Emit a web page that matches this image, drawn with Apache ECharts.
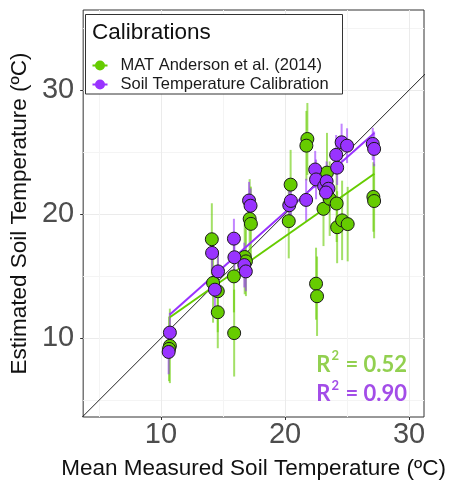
<!DOCTYPE html>
<html>
<head>
<meta charset="utf-8">
<script src="https://cdn.jsdelivr.net/npm/echarts@6/dist/echarts.min.js"></script>
<style>html,body{margin:0;padding:0;background:#fff;}#chart{width:451px;height:485px;}</style>
</head>
<body>
<div id="chart"></div>
<script>
// ---- data ----
var nameGreen = 'MAT Anderson et al. (2014)';
var namePurple = 'Soil Temperature Calibration';
// [measured x, estimated y, error half-width]
var greenPoints = [
  [10.72, 9.39, 3.0], [10.65, 9.15, 2.6], [14.10, 17.98, 2.9], [14.20, 14.46, 3.2],
  [14.58, 13.79, 3.3], [14.58, 12.10, 2.9], [15.88, 14.99, 2.9], [15.90, 10.42, 3.5],
  [16.75, 16.55, 3.0], [16.85, 16.20, 2.8], [17.15, 19.62, 3.2], [17.25, 19.22, 3.0],
  [20.45, 22.38, 2.8], [20.30, 19.44, 3.0], [21.80, 26.06, 2.9], [21.72, 25.52, 2.8],
  [22.50, 14.40, 2.9], [22.58, 13.39, 3.2], [23.10, 20.43, 3.0], [23.38, 23.35, 3.2],
  [23.60, 21.25, 3.0], [24.16, 20.86, 3.1], [24.20, 18.95, 2.9], [24.60, 19.50, 3.2],
  [25.05, 19.20, 3.0], [27.12, 21.39, 2.8], [27.18, 21.06, 3.0]
];
var purplePoints = [
  [10.72, 10.46, 1.6], [10.62, 8.90, 1.8], [14.12, 16.88, 1.4], [14.60, 15.39, 1.5],
  [14.35, 13.92, 1.7], [15.88, 18.03, 1.6], [15.92, 16.53, 1.5], [16.72, 15.90, 1.8],
  [16.84, 15.39, 1.6], [17.10, 21.10, 1.5], [17.22, 20.68, 1.4], [20.34, 20.72, 1.5],
  [20.47, 21.07, 1.6], [21.70, 21.15, 1.7], [22.43, 23.60, 1.5], [22.50, 22.80, 1.6],
  [23.15, 22.25, 1.5], [23.35, 22.65, 1.6], [23.50, 22.05, 1.7], [23.30, 21.75, 1.5],
  [24.20, 23.75, 1.4], [24.12, 24.78, 1.6], [24.56, 25.79, 1.5], [25.00, 25.52, 1.4],
  [27.07, 25.66, 1.3], [27.18, 25.26, 1.4]
];
var fitGreen = [[10.72, 11.70], [27.20, 23.26]];
var fitPurple = [[10.72, 11.92], [27.20, 26.54]];
var oneToOne = [[0, 0], [40, 40]];
var xRange = [3.73, 31.2];
var yRange = [3.66, 36.45];
var majorTicks = [10, 20, 30];
var minorX = [5, 15, 25];
var minorY = [5, 15, 25, 35];
var r2Green = '0.52';
var r2Purple = '0.90';

// ---- styles ----
var cGreen = '#66CC00', cPurple = '#9933FF';
var cGreenBar = 'rgba(102,204,0,0.6)', cPurpleBar = 'rgba(153,51,255,0.6)';
var font = 'Liberation Sans';

function errBar(color) {
  return function (params, api) {
    var x = api.value(0), y = api.value(1), e = api.value(2);
    var p1 = api.coord([x, y - e]), p2 = api.coord([x, y + e]);
    return {type: 'line', shape: {x1: p1[0], y1: p1[1], x2: p2[0], y2: p2[1]},
            style: {stroke: color, lineWidth: 2}};
  };
}

var chart = echarts.init(document.getElementById('chart'), null, {renderer: 'canvas'});
var option = {
  backgroundColor: '#fff',
  animation: false,
  grid: {left: 81, right: 27, top: 10, bottom: 65, show: true, borderColor: '#333', borderWidth: 1, backgroundColor: 'transparent'},
  xAxis: [{
    type: 'value', min: xRange[0], max: xRange[1],
    axisLine: {show: false},
    axisTick: {show: true, length: 3, lineStyle: {color: '#333'}, customValues: majorTicks},
    axisLabel: {customValues: majorTicks, fontSize: 29, color: '#4D4D4D', fontFamily: font, margin: 3},
    splitLine: {show: true, lineStyle: {color: '#EBEBEB', width: 1}},
    name: 'Mean Measured Soil Temperature (ºC)', nameLocation: 'middle', nameGap: 40,
    nameTextStyle: {fontSize: 22.5, color: '#111', fontFamily: font}
  }, {
    type: 'value', min: xRange[0], max: xRange[1], position: 'bottom',
    axisLine: {show: false}, axisLabel: {show: false},
    axisTick: {show: false, customValues: minorX},
    splitLine: {show: true, lineStyle: {color: '#F4F4F4', width: 1}}
  }],
  yAxis: [{
    type: 'value', min: yRange[0], max: yRange[1],
    axisLine: {show: false},
    axisTick: {show: true, length: 3, lineStyle: {color: '#333'}, customValues: majorTicks},
    axisLabel: {customValues: majorTicks, fontSize: 29, color: '#4D4D4D', fontFamily: font, margin: 9},
    splitLine: {show: true, lineStyle: {color: '#EBEBEB', width: 1}},
    name: 'Estimated Soil Temperature (ºC)', nameLocation: 'middle', nameGap: 47,
    nameTextStyle: {fontSize: 22.5, color: '#111', fontFamily: font}
  }, {
    type: 'value', min: yRange[0], max: yRange[1], position: 'left',
    axisLine: {show: false}, axisLabel: {show: false},
    axisTick: {show: false, customValues: minorY},
    splitLine: {show: true, lineStyle: {color: '#F4F4F4', width: 1}}
  }],
  legend: {
    orient: 'vertical', left: 87.5, top: 51, padding: 5, itemGap: 0,
    itemWidth: 15, itemHeight: 10, selectedMode: false, z: 6,
    icon: 'path://M0,4 L15,4 L15,6 L0,6 Z M7.5,0 A5,5 0 1 1 7.5,10 A5,5 0 1 1 7.5,0 Z',
    itemStyle: {borderWidth: 0},
    formatter: '{t|{name}}',
    textStyle: {fontFamily: font, fontSize: 16.5, color: '#1a1a1a', lineHeight: 19,
                rich: {t: {fontFamily: font, fontSize: 16.5, color: '#1a1a1a', lineHeight: 19, padding: [0, 0, 0, 8]}}},
    data: [nameGreen, namePurple]
  },
  graphic: [
    {type: 'rect', z: 5, shape: {x: 85.5, y: 14.5, width: 257, height: 79.5},
     style: {fill: '#fff', stroke: '#333', lineWidth: 1}},
    {type: 'text', z: 7, style: {x: 92, y: 32.5, text: 'Calibrations', fontFamily: font, fontSize: 22.5,
     fill: '#111', verticalAlign: 'middle'}},
    {type: 'text', z: 7, style: {x: 407, y: 362.7, align: 'right', verticalAlign: 'middle',
     text: '{a|R}{s|2}{a| = ' + r2Green + '}',
     rich: {a: {fontFamily: 'Lato', fontWeight: 'bold', fontSize: 22, fill: '#92D050', lineHeight: 26, verticalAlign: 'bottom'},
            s: {fontFamily: 'Lato', fontWeight: 'bold', fontSize: 13, fill: '#92D050', lineHeight: 26, verticalAlign: 'top', padding: [0, 1, 0, 1]}}}},
    {type: 'text', z: 7, style: {x: 407, y: 392, align: 'right', verticalAlign: 'middle',
     text: '{a|R}{s|2}{a| = ' + r2Purple + '}',
     rich: {a: {fontFamily: 'Lato', fontWeight: 'bold', fontSize: 22, fill: '#A34DE8', lineHeight: 26, verticalAlign: 'bottom'},
            s: {fontFamily: 'Lato', fontWeight: 'bold', fontSize: 13, fill: '#A34DE8', lineHeight: 26, verticalAlign: 'top', padding: [0, 1, 0, 1]}}}}
  ],
  series: [
    {type: 'line', name: '1:1', data: oneToOne, showSymbol: false, silent: true, z: 1,
     lineStyle: {color: '#222', width: 1}},
    {type: 'custom', name: 'gbar', data: greenPoints, encode: {x: 0, y: 1}, renderItem: errBar(cGreenBar), z: 2, silent: true},
    {type: 'custom', name: 'pbar', data: purplePoints, encode: {x: 0, y: 1}, renderItem: errBar(cPurpleBar), z: 2, silent: true},
    {type: 'line', name: 'gfit', data: fitGreen, showSymbol: false, silent: true, z: 3,
     lineStyle: {color: cGreen, width: 2}},
    {type: 'line', name: 'pfit', data: fitPurple, showSymbol: false, silent: true, z: 3,
     lineStyle: {color: cPurple, width: 2}},
    {type: 'scatter', name: nameGreen, data: greenPoints, encode: {x: 0, y: 1}, symbolSize: 13, z: 4,
     itemStyle: {color: cGreen, borderColor: '#1a1a1a', borderWidth: 1, opacity: 1}},
    {type: 'scatter', name: namePurple, data: purplePoints, encode: {x: 0, y: 1}, symbolSize: 13, z: 4,
     itemStyle: {color: cPurple, borderColor: '#1a1a1a', borderWidth: 1, opacity: 1}}
  ]
};
chart.setOption(option);
</script>
</body>
</html>
